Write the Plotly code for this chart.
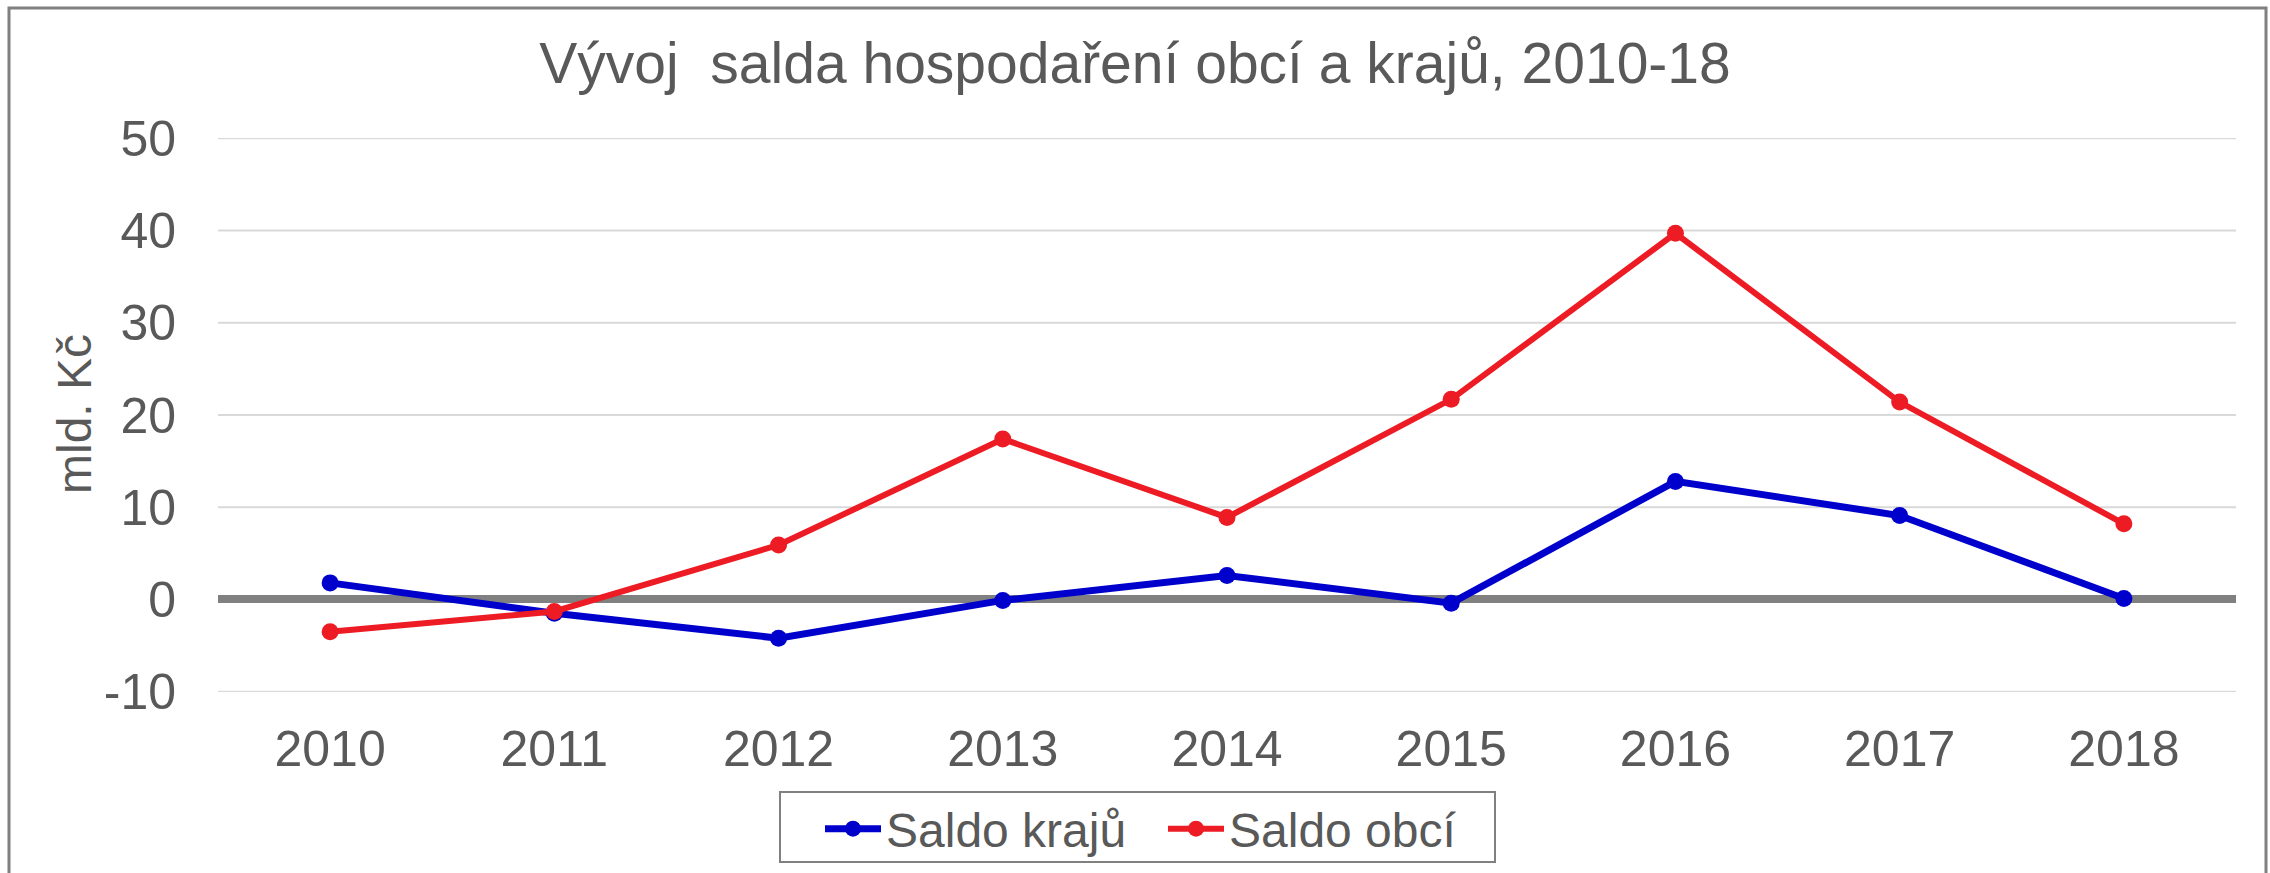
import plotly.graph_objects as go

# Roky a salda hospodaření (mld. Kč)
roky = ["2010", "2011", "2012", "2013", "2014", "2015", "2016", "2017", "2018"]
saldo_kraju = [1.8, -1.5, -4.2, -0.1, 2.6, -0.4, 12.8, 9.1, 0.1]
saldo_obci = [-3.5, -1.3, 5.9, 17.4, 8.9, 21.7, 39.7, 21.4, 8.2]

y_ticks = [-10, 0, 10, 20, 30, 40, 50]
y_labels = ["-10", "0", "10", "20", "30", "40", "50"]

W, H = 2270, 873
L, R, T, B = 218, 34, 138, 181
PW, PH = W - L - R, H - T - B

TXT = "#595959"
FONT = "Liberation Sans, Arial, sans-serif"
BLUE = "#0000CC"
RED = "#ED1C24"


def px_x(px):
    return (px - L) / PW


def px_y(py):
    return (H - B - py) / PH


fig = go.Figure()
fig.add_trace(go.Scatter(
    x=roky, y=saldo_kraju, name="Saldo krajů", mode="lines+markers",
    line=dict(color=BLUE, width=7), marker=dict(size=17, color=BLUE),
))
fig.add_trace(go.Scatter(
    x=roky, y=saldo_obci, name="Saldo obcí", mode="lines+markers",
    line=dict(color=RED, width=6), marker=dict(size=17, color=RED),
))

# horizontal gridlines, including the ones on the plot edges
grid_shapes = [
    dict(type="line", xref="paper", yref="y", x0=0, x1=1, y0=v, y1=v,
         line=dict(color="#D9D9D9", width=2), layer="below")
    for v in y_ticks if v != 0
]

fig.update_layout(
    width=W, height=H,
    margin=dict(l=L, r=R, t=T, b=B, pad=0, autoexpand=False),
    paper_bgcolor="white", plot_bgcolor="white",
    font=dict(family=FONT, color=TXT, size=50),
    title=dict(
        text="Vývoj  salda hospodaření obcí a krajů, 2010-18",
        x=0.5, xref="container", xanchor="center",
        y=1 - 63 / H, yref="container", yanchor="middle",
        font=dict(size=57, color=TXT, family=FONT),
    ),
    xaxis=dict(
        type="category", range=[-0.5, 8.5],
        showgrid=False, zeroline=False, showline=False, ticks="",
        tickfont=dict(size=50, color=TXT), ticklabelstandoff=23,
    ),
    yaxis=dict(
        range=[-10.03, 50.03], tickvals=y_ticks, ticktext=y_labels,
        showgrid=False,
        zeroline=True, zerolinecolor="#808080", zerolinewidth=8,
        showline=False, ticks="",
        tickfont=dict(size=50, color=TXT), ticklabelstandoff=41,
    ),
    legend=dict(
        orientation="h",
        x=px_x(820), y=px_y(791), xanchor="left", yanchor="top",
        borderwidth=0, bgcolor="rgba(0,0,0,0)",
        font=dict(size=48, color=TXT, family=FONT),
        itemwidth=56, entrywidth=272, entrywidthmode="pixels",
        tracegroupgap=0,
    ),
    showlegend=True,
    annotations=[dict(
        text="mld. Kč", textangle=-90,
        x=px_x(74), y=px_y(414), xref="paper", yref="paper",
        xanchor="center", yanchor="middle", showarrow=False,
        font=dict(size=48, color=TXT, family=FONT),
    )],
    shapes=grid_shapes + [
        # chart frame
        dict(
            type="rect", xref="paper", yref="paper",
            x0=px_x(9), x1=px_x(2266), y0=px_y(8), y1=px_y(900),
            line=dict(color="#808080", width=3), fillcolor="rgba(0,0,0,0)",
            layer="below",
        ),
        # legend frame
        dict(
            type="rect", xref="paper", yref="paper",
            x0=px_x(780), x1=px_x(1495), y0=px_y(792), y1=px_y(862),
            line=dict(color="#808080", width=2), fillcolor="rgba(0,0,0,0)",
            layer="below",
        ),
    ],
)

fig.write_html("out.html")
